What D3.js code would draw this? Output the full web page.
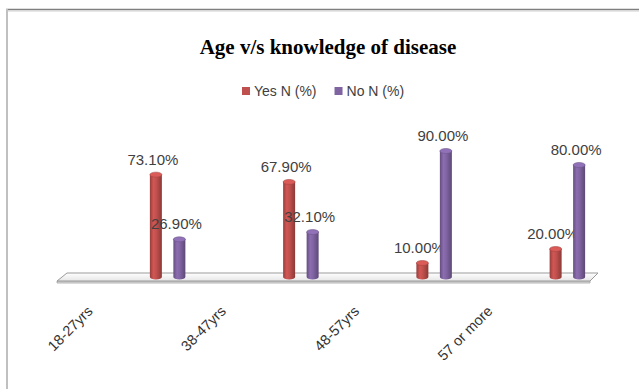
<!DOCTYPE html>
<html>
<head>
<meta charset="utf-8">
<script src="https://cdn.jsdelivr.net/npm/d3@7"></script>
<style>
  html, body { margin: 0; padding: 0; background: #ffffff; }
  svg { display: block; }
</style>
</head>
<body>
<svg id="chart" width="639" height="389"></svg>
<script>
// Age groups and the share of respondents with / without knowledge of the disease
const categories = ["18-27yrs", "38-47yrs", "48-57yrs", "57 or more"];
const seriesNames = ["Yes N (%)", "No N (%)"];
const yesValues = [73.10, 67.90, 10.00, 20.00];
const noValues = [26.90, 32.10, 90.00, 80.00];
const seriesColors = ["#C0504D", "#8064A2"];
const titleText = "Age v/s knowledge of disease";

const W = 639, H = 389;
const svg = d3.select("#chart");

const rows = categories.map((c, i) => ({ cat: c, values: [yesValues[i], noValues[i]] }));

// Front edge of the floor carries the category bands
const x = d3.scaleBand().domain(categories).range([57, 590]);
const depthDx = 44;      // bars stand further back on the floor
const floorDepth = { dx: 10, dy: -8 };
const baseY = 277;
const y = d3.scaleLinear().domain([0, 100]).range([baseY, 137]);
const inner = d3.scaleBand().domain(seriesNames).range([-23.5, 23.5])
  .paddingInner(0.49).paddingOuter(0.245);

// Gradients for the cylinders
const defs = svg.append("defs");
function shade(c, k) { return d3.color(c).darker(k).formatHex(); }
function tint(c, k) { return d3.color(c).brighter(k).formatHex(); }
seriesColors.forEach((c, i) => {
  const g = defs.append("linearGradient").attr("id", "cyl" + i)
    .attr("x1", "0").attr("x2", "1").attr("y1", "0").attr("y2", "0");
  g.append("stop").attr("offset", "0%").attr("stop-color", shade(c, 0.7));
  g.append("stop").attr("offset", "30%").attr("stop-color", tint(c, 0.25));
  g.append("stop").attr("offset", "55%").attr("stop-color", c);
  g.append("stop").attr("offset", "100%").attr("stop-color", shade(c, 0.9));
});
const fg = defs.append("linearGradient").attr("id", "floorGrad")
  .attr("x1", "0").attr("x2", "0").attr("y1", "0").attr("y2", "1");
fg.append("stop").attr("offset", "0%").attr("stop-color", "#ffffff");
fg.append("stop").attr("offset", "100%").attr("stop-color", "#e6e6e6");

// Chart frame
svg.append("line").attr("x1", 6).attr("x2", W).attr("y1", 9.5).attr("y2", 9.5)
  .attr("stroke", "#7f7f7f").attr("stroke-width", 1.5);
svg.append("line").attr("x1", 6).attr("x2", W).attr("y1", 11).attr("y2", 11)
  .attr("stroke", "#d0d0d0").attr("stroke-width", 1);
svg.append("line").attr("x1", 7).attr("x2", 7).attr("y1", 9).attr("y2", H)
  .attr("stroke", "#c0c0c0").attr("stroke-width", 2);

// Title
svg.append("text").attr("x", 328).attr("y", 54)
  .attr("text-anchor", "middle")
  .attr("font-family", "'Liberation Serif', 'Times New Roman', serif")
  .attr("font-weight", "bold").attr("font-size", 21)
  .attr("fill", "#000").text(titleText);

// Legend
const legend = svg.append("g").attr("font-family", "'Liberation Sans', Arial, sans-serif")
  .attr("font-size", 14).attr("fill", "#404040");
let lx = 242;
seriesNames.forEach((s, i) => {
  legend.append("rect").attr("x", lx).attr("y", 87).attr("width", 8).attr("height", 8)
    .attr("fill", seriesColors[i]);
  const t = legend.append("text").attr("x", lx + 12).attr("y", 96).text(s);
  lx += 12 + t.node().getComputedTextLength() + 18;
});

// Floor slab
const f0 = x.range()[0], f1 = x.range()[1];
const floorY = 281;
svg.append("path")
  .attr("d", `M${f0},${floorY} L${f1},${floorY} L${f1},${floorY + 2} L${f0},${floorY + 2} Z`)
  .attr("fill", "#d9d9d9").attr("stroke", "#a6a6a6").attr("stroke-width", 0.8);
svg.append("path")
  .attr("d", `M${f0},${floorY} L${f0 + floorDepth.dx},${floorY + floorDepth.dy} L${f1 + floorDepth.dx - 2},${floorY + floorDepth.dy} L${f1},${floorY} Z`)
  .attr("fill", "url(#floorGrad)").attr("stroke", "#9a9a9a").attr("stroke-width", 1);

// Cylinders
const barW = inner.bandwidth();
const ry = 2.5;
const groups = svg.append("g").selectAll("g").data(rows).join("g")
  .attr("transform", d => `translate(${x(d.cat) + x.bandwidth() / 2 + depthDx},0)`);

const bars = groups.selectAll("g.bar")
  .data(d => d.values.map((v, i) => ({ v, i, s: seriesNames[i] })))
  .join("g").attr("class", "bar");

bars.append("path")
  .attr("d", d => {
    const x0 = inner(d.s), x1 = x0 + barW, top = y(d.v);
    return `M${x0},${top} L${x0},${baseY} A${barW / 2},${ry} 0 0 0 ${x1},${baseY} L${x1},${top} Z`;
  })
  .attr("fill", d => `url(#cyl${d.i})`);
bars.append("ellipse")
  .attr("cx", d => inner(d.s) + barW / 2).attr("cy", d => y(d.v))
  .attr("rx", barW / 2).attr("ry", ry)
  .attr("fill", d => tint(seriesColors[d.i], 0.35))
  .attr("stroke", d => shade(seriesColors[d.i], 0.4)).attr("stroke-width", 0.6);

// Value labels
const fmt = v => d3.format(".2f")(v) + "%";
bars.append("text")
  .attr("x", d => inner(d.s) + barW / 2 - 3)
  .attr("y", d => y(d.v) - 10)
  .attr("text-anchor", "middle")
  .attr("font-family", "'Liberation Sans', Arial, sans-serif")
  .attr("font-size", 15).attr("fill", "#404040")
  .text(d => fmt(d.v));

// Category labels, rotated
svg.append("g").selectAll("text").data(categories).join("text")
  .attr("transform", d => `translate(${x(d) + x.bandwidth() / 2 - 30},312) rotate(-45)`)
  .attr("text-anchor", "end")
  .attr("font-family", "'Liberation Sans', Arial, sans-serif")
  .attr("font-size", 14.5).attr("fill", "#333333")
  .text(d => d);
</script>
</body>
</html>
